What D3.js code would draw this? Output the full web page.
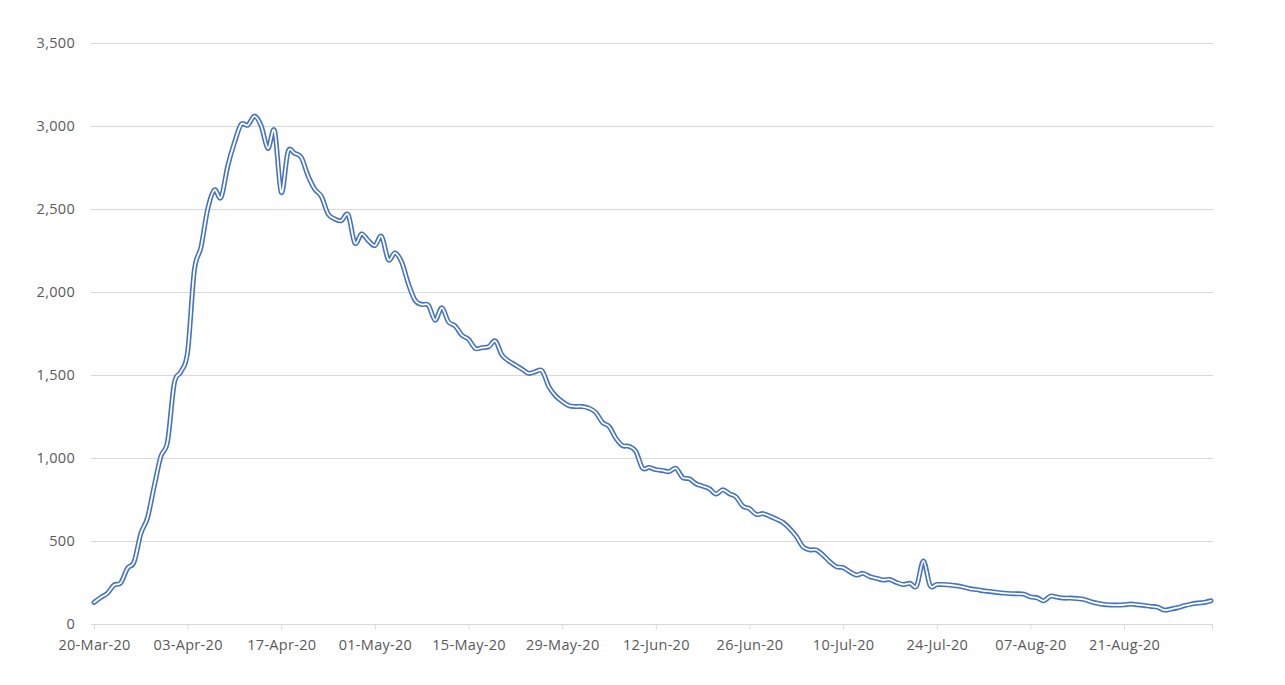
<!DOCTYPE html>
<html>
<head>
<meta charset="utf-8">
<script src="https://cdn.jsdelivr.net/npm/d3@7"></script>
<style>
  html, body { margin: 0; padding: 0; background: #ffffff; }
  svg { display: block; }
  text { font-family: "Open Sans", "Noto Sans", sans-serif; fill: #595959; }
</style>
</head>
<body>
<svg id="chart" width="1285" height="685"></svg>
<script>
// ---- data ----
const startDate = "2020-03-20";
const dailyValues = [
  130, 160, 185, 235, 248, 335, 375, 545, 640, 830,
  1010, 1100, 1450, 1520, 1640, 2130, 2270, 2500, 2615, 2570,
  2760, 2900, 3010, 3005, 3060, 3000, 2865, 2970, 2600, 2845,
  2835, 2810, 2700, 2620, 2575, 2470, 2440, 2430, 2465, 2295,
  2350, 2310, 2280, 2335, 2195, 2235, 2180, 2050, 1950, 1925,
  1920, 1830, 1905, 1820, 1795, 1740, 1715, 1660, 1665, 1670,
  1705, 1620, 1585, 1560, 1535, 1510, 1520, 1525, 1430, 1375,
  1340, 1315, 1310, 1310, 1300, 1275, 1215, 1190, 1120, 1075,
  1070, 1040, 940, 943, 930, 925, 918, 938, 882, 875,
  845, 830, 815, 783, 808, 785, 765, 710, 695, 660,
  665, 650, 632, 612, 575, 528, 465, 447, 446, 415,
  375, 345, 340, 315, 295, 305, 285, 275, 265, 268,
  250, 238, 245, 230, 380, 232, 238, 238, 235, 230,
  222, 212, 207, 200, 196, 190, 186, 183, 182, 180,
  163, 158, 140, 168, 162, 156, 156, 153, 148, 135,
  125, 118, 115, 114, 116, 120, 116, 112, 106, 102,
  84, 90, 98, 110, 120, 126, 130, 140
];
const xTickLabels = ["20-Mar-20", "03-Apr-20", "17-Apr-20", "01-May-20", "15-May-20", "29-May-20",
  "12-Jun-20", "26-Jun-20", "10-Jul-20", "24-Jul-20", "07-Aug-20", "21-Aug-20"];
const yTickValues = [0, 500, 1000, 1500, 2000, 2500, 3000, 3500];
const tickStepDays = 14;

// ---- build ----
const DAY = 86400000;
const t0 = new Date(startDate + "T00:00:00Z");
const points = dailyValues.map((v, i) => ({ date: new Date(t0.getTime() + i * DAY), value: v }));
const tEnd = points[points.length - 1].date;

const svg = d3.select("#chart");
const x = d3.scaleUtc().domain([t0, tEnd]).range([94, 1211]);
const y = d3.scaleLinear().domain([0, 3500]).range([624, 43]);
const plotLeft = 91, plotRight = 1213;

const gridColor = "#D9D9D9";

// gridlines
svg.append("g")
  .selectAll("line")
  .data(yTickValues)
  .join("line")
  .attr("x1", plotLeft)
  .attr("x2", plotRight)
  .attr("y1", d => Math.round(y(d)) + 0.5)
  .attr("y2", d => Math.round(y(d)) + 0.5)
  .attr("stroke", gridColor)
  .attr("stroke-width", 1);

// y labels
const yFmt = d3.format(",");
svg.append("g")
  .selectAll("text")
  .data(yTickValues)
  .join("text")
  .attr("x", 75)
  .attr("y", d => y(d))
  .attr("dy", "0.36em")
  .attr("text-anchor", "end")
  .style("font-size", "14.5px")
  .style("letter-spacing", "0.3px")
  .text(d => yFmt(d));

// x axis
const tickDates = xTickLabels.map((_, i) => new Date(t0.getTime() + i * tickStepDays * DAY));
const labelByTime = new Map(tickDates.map((d, i) => [d.getTime(), xTickLabels[i]]));
const xAxis = d3.axisBottom(x)
  .tickValues(tickDates)
  .tickSize(5)
  .tickSizeOuter(0)
  .tickPadding(10)
  .tickFormat(d => labelByTime.get(d.getTime()) || "");
const axisY = Math.round(y(0)) + 0.5;
const gx = svg.append("g")
  .attr("transform", "translate(0," + axisY + ")")
  .call(xAxis);
gx.select(".domain").remove();
gx.selectAll(".tick line").attr("stroke", gridColor);
gx.selectAll(".tick text")
  .style("font-family", '"Open Sans", "Noto Sans", sans-serif')
  .style("font-size", "14.5px")
  .style("letter-spacing", "0.3px")
  .attr("fill", "#595959");
// axis end tick
gx.append("line")
  .attr("x1", plotRight - 0.5).attr("x2", plotRight - 0.5)
  .attr("y1", 0).attr("y2", 5)
  .attr("stroke", gridColor);

// line (double compound line)
const line = d3.line()
  .x(d => x(d.date))
  .y(d => y(d.value))
  .curve(d3.curveCatmullRom.alpha(0));

svg.append("path")
  .datum(points)
  .attr("d", line)
  .attr("fill", "none")
  .attr("stroke", "#4472C4")
  .attr("stroke-width", 5)
  .attr("stroke-linejoin", "round")
  .attr("stroke-linecap", "round");

svg.append("path")
  .datum(points)
  .attr("d", line)
  .attr("fill", "none")
  .attr("stroke", "#ffffff")
  .attr("stroke-width", 1.8)
  .attr("stroke-linejoin", "round")
  .attr("stroke-linecap", "round");
</script>
</body>
</html>
